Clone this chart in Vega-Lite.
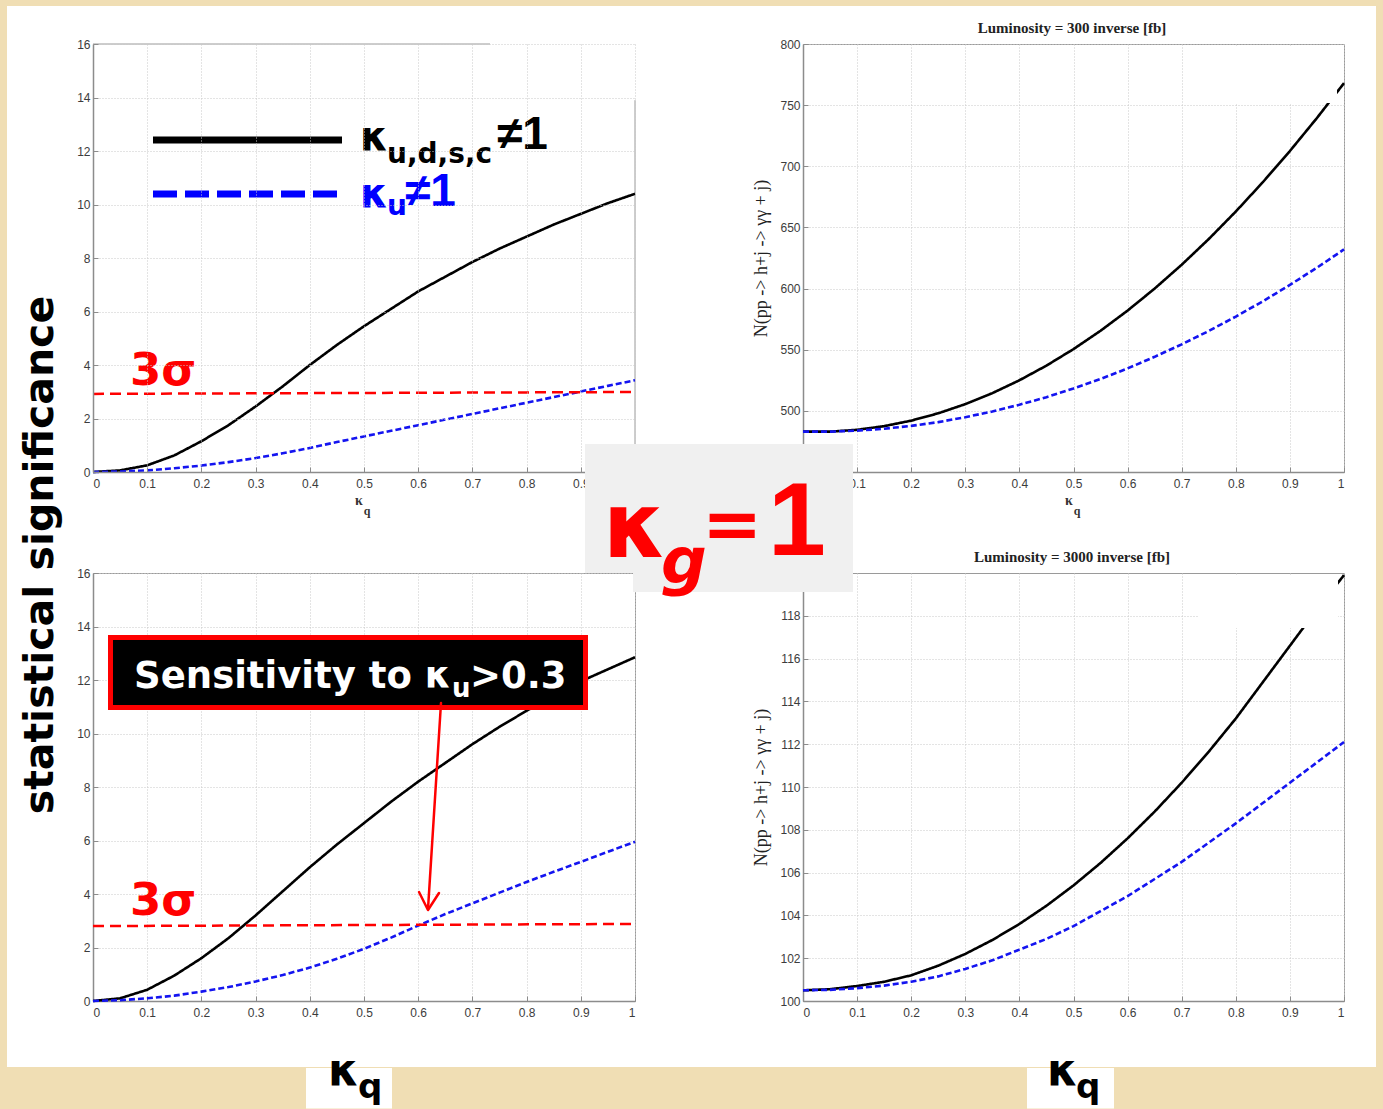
{
  "$schema": "https://vega.github.io/schema/vega-lite/v6.json",
  "background": "#f0deb4",
  "padding": 0,
  "autosize": {"type": "pad"},
  "bounds": "flush",
  "columns": 2,
  "spacing": {"row": 101, "column": 168},
  "datasets": {
    "sig300": [
      {"case": "all", "kq": 0, "v": 0}, {"case": "all", "kq": 0.05, "v": 0.06}, {"case": "all", "kq": 0.1, "v": 0.25},
      {"case": "all", "kq": 0.15, "v": 0.62}, {"case": "all", "kq": 0.2, "v": 1.15}, {"case": "all", "kq": 0.25, "v": 1.75},
      {"case": "all", "kq": 0.3, "v": 2.45}, {"case": "all", "kq": 0.35, "v": 3.2}, {"case": "all", "kq": 0.4, "v": 4.0},
      {"case": "all", "kq": 0.45, "v": 4.75}, {"case": "all", "kq": 0.5, "v": 5.45}, {"case": "all", "kq": 0.55, "v": 6.1},
      {"case": "all", "kq": 0.6, "v": 6.75}, {"case": "all", "kq": 0.65, "v": 7.3}, {"case": "all", "kq": 0.7, "v": 7.85},
      {"case": "all", "kq": 0.75, "v": 8.35}, {"case": "all", "kq": 0.8, "v": 8.8}, {"case": "all", "kq": 0.85, "v": 9.25},
      {"case": "all", "kq": 0.9, "v": 9.65}, {"case": "all", "kq": 0.95, "v": 10.05}, {"case": "all", "kq": 1.0, "v": 10.4},
      {"case": "up", "kq": 0, "v": 0}, {"case": "up", "kq": 0.05, "v": 0.02}, {"case": "up", "kq": 0.1, "v": 0.06},
      {"case": "up", "kq": 0.15, "v": 0.14}, {"case": "up", "kq": 0.2, "v": 0.24}, {"case": "up", "kq": 0.25, "v": 0.37},
      {"case": "up", "kq": 0.3, "v": 0.52}, {"case": "up", "kq": 0.35, "v": 0.7}, {"case": "up", "kq": 0.4, "v": 0.9},
      {"case": "up", "kq": 0.45, "v": 1.12}, {"case": "up", "kq": 0.5, "v": 1.33}, {"case": "up", "kq": 0.55, "v": 1.54},
      {"case": "up", "kq": 0.6, "v": 1.75}, {"case": "up", "kq": 0.65, "v": 1.96}, {"case": "up", "kq": 0.7, "v": 2.17},
      {"case": "up", "kq": 0.75, "v": 2.38}, {"case": "up", "kq": 0.8, "v": 2.59}, {"case": "up", "kq": 0.85, "v": 2.8},
      {"case": "up", "kq": 0.9, "v": 3.01}, {"case": "up", "kq": 0.95, "v": 3.22}, {"case": "up", "kq": 1.0, "v": 3.43}
    ],
    "n300": [
      {"case": "all", "kq": 0, "v": 483}, {"case": "all", "kq": 0.05, "v": 483}, {"case": "all", "kq": 0.1, "v": 484.5},
      {"case": "all", "kq": 0.15, "v": 487.5}, {"case": "all", "kq": 0.2, "v": 492}, {"case": "all", "kq": 0.25, "v": 498},
      {"case": "all", "kq": 0.3, "v": 505.5}, {"case": "all", "kq": 0.35, "v": 514.5}, {"case": "all", "kq": 0.4, "v": 525},
      {"case": "all", "kq": 0.45, "v": 537}, {"case": "all", "kq": 0.5, "v": 550.5}, {"case": "all", "kq": 0.55, "v": 565.5},
      {"case": "all", "kq": 0.6, "v": 582}, {"case": "all", "kq": 0.65, "v": 600}, {"case": "all", "kq": 0.7, "v": 619.5},
      {"case": "all", "kq": 0.75, "v": 640.5}, {"case": "all", "kq": 0.8, "v": 663}, {"case": "all", "kq": 0.85, "v": 687},
      {"case": "all", "kq": 0.9, "v": 712.5}, {"case": "all", "kq": 0.95, "v": 739.5}, {"case": "all", "kq": 1.0, "v": 768},
      {"case": "up", "kq": 0, "v": 483}, {"case": "up", "kq": 0.05, "v": 483}, {"case": "up", "kq": 0.1, "v": 483.8},
      {"case": "up", "kq": 0.15, "v": 485.4}, {"case": "up", "kq": 0.2, "v": 487.7}, {"case": "up", "kq": 0.25, "v": 490.8},
      {"case": "up", "kq": 0.3, "v": 494.8}, {"case": "up", "kq": 0.35, "v": 499.5}, {"case": "up", "kq": 0.4, "v": 505.0},
      {"case": "up", "kq": 0.45, "v": 511.2}, {"case": "up", "kq": 0.5, "v": 518.3}, {"case": "up", "kq": 0.55, "v": 526.1},
      {"case": "up", "kq": 0.6, "v": 534.7}, {"case": "up", "kq": 0.65, "v": 544.2}, {"case": "up", "kq": 0.7, "v": 554.4},
      {"case": "up", "kq": 0.75, "v": 565.3}, {"case": "up", "kq": 0.8, "v": 577.1}, {"case": "up", "kq": 0.85, "v": 589.6},
      {"case": "up", "kq": 0.9, "v": 603.0}, {"case": "up", "kq": 0.95, "v": 617.1}, {"case": "up", "kq": 1.0, "v": 632.0}
    ],
    "sig3000": [
      {"case": "all", "kq": 0, "v": 0}, {"case": "all", "kq": 0.05, "v": 0.1}, {"case": "all", "kq": 0.1, "v": 0.42},
      {"case": "all", "kq": 0.15, "v": 0.95}, {"case": "all", "kq": 0.2, "v": 1.6}, {"case": "all", "kq": 0.25, "v": 2.35},
      {"case": "all", "kq": 0.3, "v": 3.2}, {"case": "all", "kq": 0.35, "v": 4.1}, {"case": "all", "kq": 0.4, "v": 5.0},
      {"case": "all", "kq": 0.45, "v": 5.85}, {"case": "all", "kq": 0.5, "v": 6.65}, {"case": "all", "kq": 0.55, "v": 7.45},
      {"case": "all", "kq": 0.6, "v": 8.2}, {"case": "all", "kq": 0.65, "v": 8.9}, {"case": "all", "kq": 0.7, "v": 9.6},
      {"case": "all", "kq": 0.75, "v": 10.25}, {"case": "all", "kq": 0.8, "v": 10.85}, {"case": "all", "kq": 0.85, "v": 11.4},
      {"case": "all", "kq": 0.9, "v": 11.95}, {"case": "all", "kq": 0.95, "v": 12.4}, {"case": "all", "kq": 1.0, "v": 12.85},
      {"case": "up", "kq": 0, "v": 0}, {"case": "up", "kq": 0.05, "v": 0.03}, {"case": "up", "kq": 0.1, "v": 0.1},
      {"case": "up", "kq": 0.15, "v": 0.2}, {"case": "up", "kq": 0.2, "v": 0.35}, {"case": "up", "kq": 0.25, "v": 0.52},
      {"case": "up", "kq": 0.3, "v": 0.73}, {"case": "up", "kq": 0.35, "v": 0.97}, {"case": "up", "kq": 0.4, "v": 1.25},
      {"case": "up", "kq": 0.45, "v": 1.58}, {"case": "up", "kq": 0.5, "v": 1.95}, {"case": "up", "kq": 0.55, "v": 2.37},
      {"case": "up", "kq": 0.6, "v": 2.82}, {"case": "up", "kq": 0.65, "v": 3.25}, {"case": "up", "kq": 0.7, "v": 3.65},
      {"case": "up", "kq": 0.75, "v": 4.05}, {"case": "up", "kq": 0.8, "v": 4.45}, {"case": "up", "kq": 0.85, "v": 4.83},
      {"case": "up", "kq": 0.9, "v": 5.2}, {"case": "up", "kq": 0.95, "v": 5.58}, {"case": "up", "kq": 1.0, "v": 5.95}
    ],
    "n3000": [
      {"case": "all", "kq": 0, "v": 100.5}, {"case": "all", "kq": 0.05, "v": 100.55}, {"case": "all", "kq": 0.1, "v": 100.7},
      {"case": "all", "kq": 0.15, "v": 100.9}, {"case": "all", "kq": 0.2, "v": 101.2}, {"case": "all", "kq": 0.25, "v": 101.65},
      {"case": "all", "kq": 0.3, "v": 102.2}, {"case": "all", "kq": 0.35, "v": 102.85}, {"case": "all", "kq": 0.4, "v": 103.6},
      {"case": "all", "kq": 0.45, "v": 104.45}, {"case": "all", "kq": 0.5, "v": 105.4}, {"case": "all", "kq": 0.55, "v": 106.45},
      {"case": "all", "kq": 0.6, "v": 107.6}, {"case": "all", "kq": 0.65, "v": 108.85}, {"case": "all", "kq": 0.7, "v": 110.2},
      {"case": "all", "kq": 0.75, "v": 111.65}, {"case": "all", "kq": 0.8, "v": 113.2}, {"case": "all", "kq": 0.85, "v": 114.9},
      {"case": "all", "kq": 0.9, "v": 116.6}, {"case": "all", "kq": 0.95, "v": 118.3}, {"case": "all", "kq": 1.0, "v": 119.9},
      {"case": "up", "kq": 0, "v": 100.5}, {"case": "up", "kq": 0.05, "v": 100.52}, {"case": "up", "kq": 0.1, "v": 100.6},
      {"case": "up", "kq": 0.15, "v": 100.72}, {"case": "up", "kq": 0.2, "v": 100.9}, {"case": "up", "kq": 0.25, "v": 101.15},
      {"case": "up", "kq": 0.3, "v": 101.5}, {"case": "up", "kq": 0.35, "v": 101.9}, {"case": "up", "kq": 0.4, "v": 102.4},
      {"case": "up", "kq": 0.45, "v": 102.9}, {"case": "up", "kq": 0.5, "v": 103.5}, {"case": "up", "kq": 0.55, "v": 104.2},
      {"case": "up", "kq": 0.6, "v": 104.9}, {"case": "up", "kq": 0.65, "v": 105.7}, {"case": "up", "kq": 0.7, "v": 106.5},
      {"case": "up", "kq": 0.75, "v": 107.4}, {"case": "up", "kq": 0.8, "v": 108.3}, {"case": "up", "kq": 0.85, "v": 109.25},
      {"case": "up", "kq": 0.9, "v": 110.2}, {"case": "up", "kq": 0.95, "v": 111.15}, {"case": "up", "kq": 1.0, "v": 112.1}
    ]
  },
  "concat": [
    {
      "width": 542,
      "height": 428,
      "view": {"stroke": null},
      "encoding": {
        "x": {"field": "kq", "type": "quantitative", "scale": {"domain": [0, 1], "nice": false, "zero": false},
              "axis": {"values": [0, 0.1, 0.2, 0.3, 0.4, 0.5, 0.6, 0.7, 0.8, 0.9, 1], "format": "~g", "title": null, "zindex": 1}},
        "y": {"field": "v", "type": "quantitative", "scale": {"domain": [0, 16], "nice": false},
              "axis": {"values": [0, 2, 4, 6, 8, 10, 12, 14, 16], "title": null, "zindex": 1}}
      },
      "layer": [
        {
          "data": {"values": [{"kq": -0.17158, "kq2": 2.38007, "v": 17.6448, "v2": -23.813}]},
          "mark": {"type": "rect", "fill": "#f0deb4"},
          "encoding": {"x2": {"field": "kq2"}, "y2": {"field": "v2"}}
        },
        {
          "data": {"values": [{"kq": -0.15867, "kq2": 2.36716, "v": 17.4206, "v2": -22.243}]},
          "mark": {"type": "rect", "fill": "#ffffff"},
          "encoding": {"x2": {"field": "kq2"}, "y2": {"field": "v2"}}
        },
        {
          "data": {"values": [{"kq": 0, "kq2": 0.7325, "v": 16, "v2": 16}, {"kq": 1, "kq2": 1, "v": 0, "v2": 13.9}]},
          "mark": {"type": "rule", "color": "#9a9a9a", "strokeWidth": 1},
          "encoding": {"x2": {"field": "kq2"}, "y2": {"field": "v2"}}
        },
        {
          "data": {"name": "sig300"},
          "mark": {"type": "line", "strokeWidth": 2.6},
          "encoding": {
            "color": {"field": "case", "type": "nominal", "scale": {"domain": ["all", "up"], "range": ["#000000", "#1414f0"]}, "legend": null},
            "strokeDash": {"field": "case", "type": "nominal", "scale": {"domain": ["all", "up"], "range": [[1, 0], [6, 3]]}, "legend": null}
          }
        },
        {
          "data": {"values": [{"kq": 0, "v": 2.92}, {"kq": 0.9945, "v": 2.99}]},
          "mark": {"type": "line", "color": "#ff0000", "strokeWidth": 2.5, "strokeDash": [11, 6]},
          "encoding": {}
        },
        {
          "data": {"values": [{"kq": 0.06827, "v": 3.2523, "t": "3σ"}]},
          "mark": {"type": "text", "align": "left", "baseline": "alphabetic", "font": "DejaVu Sans", "fontWeight": "bold", "fontSize": 45, "color": "#ff0000"},
          "encoding": {"text": {"field": "t"}}
        },
        {
          "data": {"values": [{"kq": 0.1107, "v": 12.4112}, {"kq": 0.45941, "v": 12.4112}]},
          "mark": {"type": "line", "color": "#000000", "strokeWidth": 7},
          "encoding": {}
        },
        {
          "data": {"values": [{"kq": 0.1107, "v": 10.3925}, {"kq": 0.45203, "v": 10.3925}]},
          "mark": {"type": "line", "color": "#0000ff", "strokeWidth": 7, "strokeDash": [24, 8]},
          "encoding": {}
        },
        {
          "data": {"values": [{"kq": 0.49262, "v": 12.0374, "t": "κ"}]},
          "mark": {"type": "text", "align": "left", "baseline": "alphabetic", "font": "DejaVu Sans", "fontWeight": "bold", "fontSize": 40, "color": "#000000"},
          "encoding": {"text": {"field": "t"}}
        },
        {
          "data": {"values": [{"kq": 0.54244, "v": 11.5514, "t": "u,d,s,c"}]},
          "mark": {"type": "text", "align": "left", "baseline": "alphabetic", "font": "DejaVu Sans", "fontWeight": "bold", "fontSize": 28, "color": "#000000"},
          "encoding": {"text": {"field": "t"}}
        },
        {
          "data": {"values": [{"kq": 0.74539, "v": 12.0748, "t": "≠1"}]},
          "mark": {"type": "text", "align": "left", "baseline": "alphabetic", "font": "Liberation Sans", "fontWeight": "bold", "fontSize": 46, "color": "#000000"},
          "encoding": {"text": {"field": "t"}}
        },
        {
          "data": {"values": [{"kq": 0.49262, "v": 9.9065, "t": "κ"}]},
          "mark": {"type": "text", "align": "left", "baseline": "alphabetic", "font": "DejaVu Sans", "fontWeight": "bold", "fontSize": 40, "color": "#0000ff"},
          "encoding": {"text": {"field": "t"}}
        },
        {
          "data": {"values": [{"kq": 0.54244, "v": 9.6075, "t": "u"}]},
          "mark": {"type": "text", "align": "left", "baseline": "alphabetic", "font": "DejaVu Sans", "fontWeight": "bold", "fontSize": 28, "color": "#0000ff"},
          "encoding": {"text": {"field": "t"}}
        },
        {
          "data": {"values": [{"kq": 0.57565, "v": 9.9439, "t": "≠1"}]},
          "mark": {"type": "text", "align": "left", "baseline": "alphabetic", "font": "Liberation Sans", "fontWeight": "bold", "fontSize": 46, "color": "#0000ff"},
          "encoding": {"text": {"field": "t"}}
        },
        {
          "data": {"values": [{"kq": 0.49077, "v": -1.2336, "t": "κ"}]},
          "mark": {"type": "text", "align": "center", "baseline": "alphabetic", "font": "Liberation Serif", "fontWeight": "bold", "fontSize": 14, "color": "#333333"},
          "encoding": {"text": {"field": "t"}}
        },
        {
          "data": {"values": [{"kq": 0.50554, "v": -1.6075, "t": "q"}]},
          "mark": {"type": "text", "align": "center", "baseline": "alphabetic", "font": "Liberation Serif", "fontWeight": "bold", "fontSize": 12, "color": "#333333"},
          "encoding": {"text": {"field": "t"}}
        }
      ]
    },
    {
      "width": 541,
      "height": 428,
      "encoding": {
        "x": {"field": "kq", "type": "quantitative", "scale": {"domain": [0, 1], "nice": false, "zero": false},
              "axis": {"values": [0, 0.1, 0.2, 0.3, 0.4, 0.5, 0.6, 0.7, 0.8, 0.9, 1], "format": "~g", "title": null}},
        "y": {"field": "v", "type": "quantitative", "scale": {"domain": [450, 800], "nice": false, "zero": false},
              "axis": {"values": [500, 550, 600, 650, 700, 750, 800], "title": "N(pp -> h+j -> γγ + j)"}}
      },
      "layer": [
        {
          "data": {"name": "n300"},
          "mark": {"type": "line", "strokeWidth": 2.6},
          "encoding": {
            "color": {"field": "case", "type": "nominal", "scale": {"domain": ["all", "up"], "range": ["#000000", "#1414f0"]}, "legend": null},
            "strokeDash": {"field": "case", "type": "nominal", "scale": {"domain": ["all", "up"], "range": [[1, 0], [6, 3]]}, "legend": null}
          }
        },
        {
          "data": {"values": [{"kq": 0.78004, "kq2": 0.98706, "v": 797.547, "v2": 751.752}]},
          "mark": {"type": "rect", "fill": "#ffffff"},
          "encoding": {"x2": {"field": "kq2"}, "y2": {"field": "v2"}}
        },
        {
          "data": {"values": [{"kq": 0.49723, "v": 808.995, "t": "Luminosity = 300 inverse [fb]"}]},
          "mark": {"type": "text", "align": "center", "baseline": "alphabetic", "font": "Liberation Serif", "fontWeight": "bold", "fontSize": 15, "color": "#222222"},
          "encoding": {"text": {"field": "t"}}
        },
        {
          "data": {"values": [{"kq": 0.49168, "v": 423.01, "t": "κ"}]},
          "mark": {"type": "text", "align": "center", "baseline": "alphabetic", "font": "Liberation Serif", "fontWeight": "bold", "fontSize": 14, "color": "#333333"},
          "encoding": {"text": {"field": "t"}}
        },
        {
          "data": {"values": [{"kq": 0.50647, "v": 414.83, "t": "q"}]},
          "mark": {"type": "text", "align": "center", "baseline": "alphabetic", "font": "Liberation Serif", "fontWeight": "bold", "fontSize": 12, "color": "#333333"},
          "encoding": {"text": {"field": "t"}}
        }
      ]
    },
    {
      "width": 542,
      "height": 428,
      "encoding": {
        "x": {"field": "kq", "type": "quantitative", "scale": {"domain": [0, 1], "nice": false, "zero": false},
              "axis": {"values": [0, 0.1, 0.2, 0.3, 0.4, 0.5, 0.6, 0.7, 0.8, 0.9, 1], "format": "~g", "title": null}},
        "y": {"field": "v", "type": "quantitative", "scale": {"domain": [0, 16], "nice": false},
              "axis": {"values": [0, 2, 4, 6, 8, 10, 12, 14, 16], "title": null}}
      },
      "layer": [
        {
          "data": {"name": "sig3000"},
          "mark": {"type": "line", "strokeWidth": 2.6},
          "encoding": {
            "color": {"field": "case", "type": "nominal", "scale": {"domain": ["all", "up"], "range": ["#000000", "#1414f0"]}, "legend": null},
            "strokeDash": {"field": "case", "type": "nominal", "scale": {"domain": ["all", "up"], "range": [[1, 0], [6, 3]]}, "legend": null}
          }
        },
        {
          "data": {"values": [{"kq": 0, "v": 2.80}, {"kq": 0.9945, "v": 2.88}]},
          "mark": {"type": "line", "color": "#ff0000", "strokeWidth": 2.5, "strokeDash": [11, 6]},
          "encoding": {}
        },
        {
          "data": {"values": [{"kq": 0.06827, "v": 3.215, "t": "3σ"}]},
          "mark": {"type": "text", "align": "left", "baseline": "alphabetic", "font": "DejaVu Sans", "fontWeight": "bold", "fontSize": 45, "color": "#ff0000"},
          "encoding": {"text": {"field": "t"}}
        },
        {
          "data": {"values": [{"kq": 0.02768, "kq2": 0.91328, "v": 13.6822, "v2": 10.8785}]},
          "mark": {"type": "rect", "fill": "#ff0000"},
          "encoding": {"x2": {"field": "kq2"}, "y2": {"field": "v2"}}
        },
        {
          "data": {"values": [{"kq": 0.0369, "kq2": 0.90406, "v": 13.4953, "v2": 11.0654}]},
          "mark": {"type": "rect", "fill": "#000000"},
          "encoding": {"x2": {"field": "kq2"}, "y2": {"field": "v2"}}
        },
        {
          "data": {"values": [{"kq": 0.66052, "v": 11.7009, "t": "Sensitivity to κ"}]},
          "mark": {"type": "text", "align": "right", "baseline": "alphabetic", "font": "DejaVu Sans", "fontWeight": "bold", "fontSize": 37, "color": "#ffffff"},
          "encoding": {"text": {"field": "t"}}
        },
        {
          "data": {"values": [{"kq": 0.66236, "v": 11.3645, "t": "u"}]},
          "mark": {"type": "text", "align": "left", "baseline": "alphabetic", "font": "DejaVu Sans", "fontWeight": "bold", "fontSize": 26, "color": "#ffffff"},
          "encoding": {"text": {"field": "t"}}
        },
        {
          "data": {"values": [{"kq": 0.69557, "v": 11.7009, "t": ">0.3"}]},
          "mark": {"type": "text", "align": "left", "baseline": "alphabetic", "font": "DejaVu Sans", "fontWeight": "bold", "fontSize": 37, "color": "#ffffff"},
          "encoding": {"text": {"field": "t"}}
        },
        {
          "data": {"values": [
            {"part": "shaft", "seq": 0, "kq": 0.64207, "v": 11.1402},
            {"part": "shaft", "seq": 1, "kq": 0.61808, "v": 3.44},
            {"part": "head", "seq": 0, "kq": 0.60148, "v": 4.0748},
            {"part": "head", "seq": 1, "kq": 0.61808, "v": 3.40},
            {"part": "head", "seq": 2, "kq": 0.63838, "v": 4.0374}
          ]},
          "mark": {"type": "line", "color": "#ff0000", "strokeWidth": 2.5, "strokeCap": "round", "strokeJoin": "round"},
          "encoding": {"detail": {"field": "part"}, "order": {"field": "seq", "type": "quantitative"}}
        },
        {
          "data": {"values": [{"kq": -0.0738, "v": 16.6729, "t": "statistical significance"}]},
          "mark": {"type": "text", "align": "center", "baseline": "alphabetic", "angle": 270, "font": "DejaVu Sans", "fontWeight": "bold", "fontSize": 41, "color": "#000000"},
          "encoding": {"text": {"field": "t"}}
        },
        {
          "data": {"values": [{"kq": 0.39299, "kq2": 0.55166, "v": -2.5047, "v2": -4.0187}]},
          "mark": {"type": "rect", "fill": "#ffffff"},
          "encoding": {"x2": {"field": "kq2"}, "y2": {"field": "v2"}}
        },
        {
          "data": {"values": [{"kq": 0.43358, "v": -3.1402, "t": "κ"}]},
          "mark": {"type": "text", "align": "left", "baseline": "alphabetic", "font": "DejaVu Sans", "fontWeight": "bold", "fontSize": 44, "color": "#000000"},
          "encoding": {"text": {"field": "t"}}
        },
        {
          "data": {"values": [{"kq": 0.48893, "v": -3.6262, "t": "q"}]},
          "mark": {"type": "text", "align": "left", "baseline": "alphabetic", "font": "DejaVu Sans", "fontWeight": "bold", "fontSize": 34, "color": "#000000"},
          "encoding": {"text": {"field": "t"}}
        }
      ]
    },
    {
      "width": 541,
      "height": 428,
      "encoding": {
        "x": {"field": "kq", "type": "quantitative", "scale": {"domain": [0, 1], "nice": false, "zero": false},
              "axis": {"values": [0, 0.1, 0.2, 0.3, 0.4, 0.5, 0.6, 0.7, 0.8, 0.9, 1], "format": "~g", "title": null}},
        "y": {"field": "v", "type": "quantitative", "scale": {"domain": [100, 120], "nice": false, "zero": false},
              "axis": {"values": [100, 102, 104, 106, 108, 110, 112, 114, 116, 118], "title": "N(pp -> h+j -> γγ + j)"}}
      },
      "layer": [
        {
          "data": {"name": "n3000"},
          "mark": {"type": "line", "strokeWidth": 2.6},
          "encoding": {
            "color": {"field": "case", "type": "nominal", "scale": {"domain": ["all", "up"], "range": ["#000000", "#1414f0"]}, "legend": null},
            "strokeDash": {"field": "case", "type": "nominal", "scale": {"domain": ["all", "up"], "range": [[1, 0], [6, 3]]}, "legend": null}
          }
        },
        {
          "data": {"values": [{"kq": 0.73013, "kq2": 0.98891, "v": 119.86, "v2": 117.43}]},
          "mark": {"type": "rect", "fill": "#ffffff"},
          "encoding": {"x2": {"field": "kq2"}, "y2": {"field": "v2"}}
        },
        {
          "data": {"values": [{"kq": 0.49723, "v": 120.514, "t": "Luminosity = 3000 inverse [fb]"}]},
          "mark": {"type": "text", "align": "center", "baseline": "alphabetic", "font": "Liberation Serif", "fontWeight": "bold", "fontSize": 15, "color": "#222222"},
          "encoding": {"text": {"field": "t"}}
        },
        {
          "data": {"values": [
            {"kq": -0.40296, "kq2": 0.09242, "v": 126.028, "v2": 120},
            {"kq": -0.31423, "kq2": 0.09242, "v": 120, "v2": 119.112}
          ]},
          "mark": {"type": "rect", "fill": "#f0f0f0"},
          "encoding": {"x2": {"field": "kq2"}, "y2": {"field": "v2"}}
        },
        {
          "data": {"values": [{"kq": -0.36969, "v": 120.7477, "t": "κ"}]},
          "mark": {"type": "text", "align": "left", "baseline": "alphabetic", "font": "DejaVu Sans", "fontWeight": "bold", "fontSize": 90, "color": "#ff0000"},
          "encoding": {"text": {"field": "t"}}
        },
        {
          "data": {"values": [{"kq": -0.26248, "v": 119.5327, "t": "g"}]},
          "mark": {"type": "text", "align": "left", "baseline": "alphabetic", "font": "DejaVu Sans", "fontWeight": "bold", "fontStyle": "italic", "fontSize": 64, "color": "#ff0000"},
          "encoding": {"text": {"field": "t"}}
        },
        {
          "data": {"values": [{"kq": -0.18669, "v": 121.1682, "t": "="}]},
          "mark": {"type": "text", "align": "left", "baseline": "alphabetic", "font": "DejaVu Sans", "fontWeight": "bold", "fontSize": 72, "color": "#ff0000"},
          "encoding": {"text": {"field": "t"}}
        },
        {
          "data": {"values": [{"kq": -0.01109, "v": 120.8411, "t": "1"}]},
          "mark": {"type": "text", "align": "center", "baseline": "alphabetic", "font": "Liberation Sans", "fontWeight": "bold", "fontSize": 104, "color": "#ff0000"},
          "encoding": {"text": {"field": "t"}}
        },
        {
          "data": {"values": [{"kq": 0.41405, "kq2": 0.57486, "v": 96.869, "v2": 94.9766}]},
          "mark": {"type": "rect", "fill": "#ffffff"},
          "encoding": {"x2": {"field": "kq2"}, "y2": {"field": "v2"}}
        },
        {
          "data": {"values": [{"kq": 0.45102, "v": 96.0748, "t": "κ"}]},
          "mark": {"type": "text", "align": "left", "baseline": "alphabetic", "font": "DejaVu Sans", "fontWeight": "bold", "fontSize": 44, "color": "#000000"},
          "encoding": {"text": {"field": "t"}}
        },
        {
          "data": {"values": [{"kq": 0.50462, "v": 95.4673, "t": "q"}]},
          "mark": {"type": "text", "align": "left", "baseline": "alphabetic", "font": "DejaVu Sans", "fontWeight": "bold", "fontSize": 34, "color": "#000000"},
          "encoding": {"text": {"field": "t"}}
        }
      ]
    }
  ],
  "config": {
    "view": {"stroke": "#9a9a9a", "strokeWidth": 1},
    "axis": {
      "labelFont": "Liberation Sans",
      "labelFontSize": 12,
      "labelColor": "#3c3c3c",
      "domainColor": "#8c8c8c",
      "domainWidth": 1.5,
      "tickColor": "#8c8c8c",
      "tickSize": -5,
      "tickWidth": 1,
      "gridColor": "#c8c8c8",
      "gridDash": [1, 2],
      "gridWidth": 1,
      "titleFont": "Liberation Serif",
      "titleFontSize": 18,
      "titleFontWeight": "normal",
      "titleColor": "#222222",
      "titlePadding": 9
    },
    "axisX": {"labelPadding": 11},
    "axisY": {"labelPadding": 8}
  }
}
